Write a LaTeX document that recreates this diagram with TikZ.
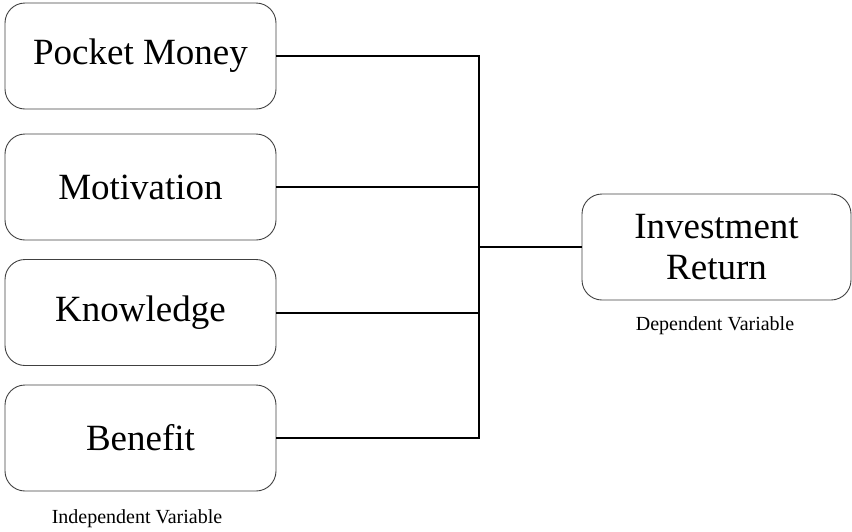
\documentclass[tikz,border=0pt]{standalone}
\usepackage{fontspec}
\setmainfont{Liberation Serif}
\begin{document}
\begin{tikzpicture}[x=1pt,y=-1pt,
  varbox/.style={draw=black!75,line width=0.9pt,rounded corners=20pt,minimum width=271pt,minimum height=106pt,font=\fontsize{37}{40}\selectfont,align=center,inner sep=0pt},
  conn/.style={line width=2pt,black},
  caption/.style={font=\fontsize{20}{22}\selectfont,inner sep=0pt}]
\useasboundingbox (0,0) rectangle (852,531);
\node[varbox] (pm) at (140.5,56) {Pocket Money};
\node[varbox] (mo) at (140.5,187) {Motivation};
\node[varbox] (kn) at (140.5,312.5) {Knowledge};
\node[varbox] (be) at (140.5,438) {Benefit};
\node[varbox,minimum width=269pt] (ir) at (716.5,247) {Investment\\[1pt]Return};
\node[caption] (ivl) at (137,519) {Independent Variable};
\node[caption] (dvl) at (715,326) {Dependent Variable};
\coordinate (bt) at (479,56);
\coordinate (bb) at (479,438);
\coordinate (bm) at (479,247);
\draw[conn] (pm.east) -- (pm.east -| bt);
\draw[conn] (mo.east) -- (mo.east -| bt);
\draw[conn] (kn.east) -- (kn.east -| bt);
\draw[conn] (be.east) -- (be.east -| bt);
\draw[conn,line cap=rect] (bt) -- (bb);
\draw[conn] (bm) -- (ir.west);
\end{tikzpicture}
\end{document}
